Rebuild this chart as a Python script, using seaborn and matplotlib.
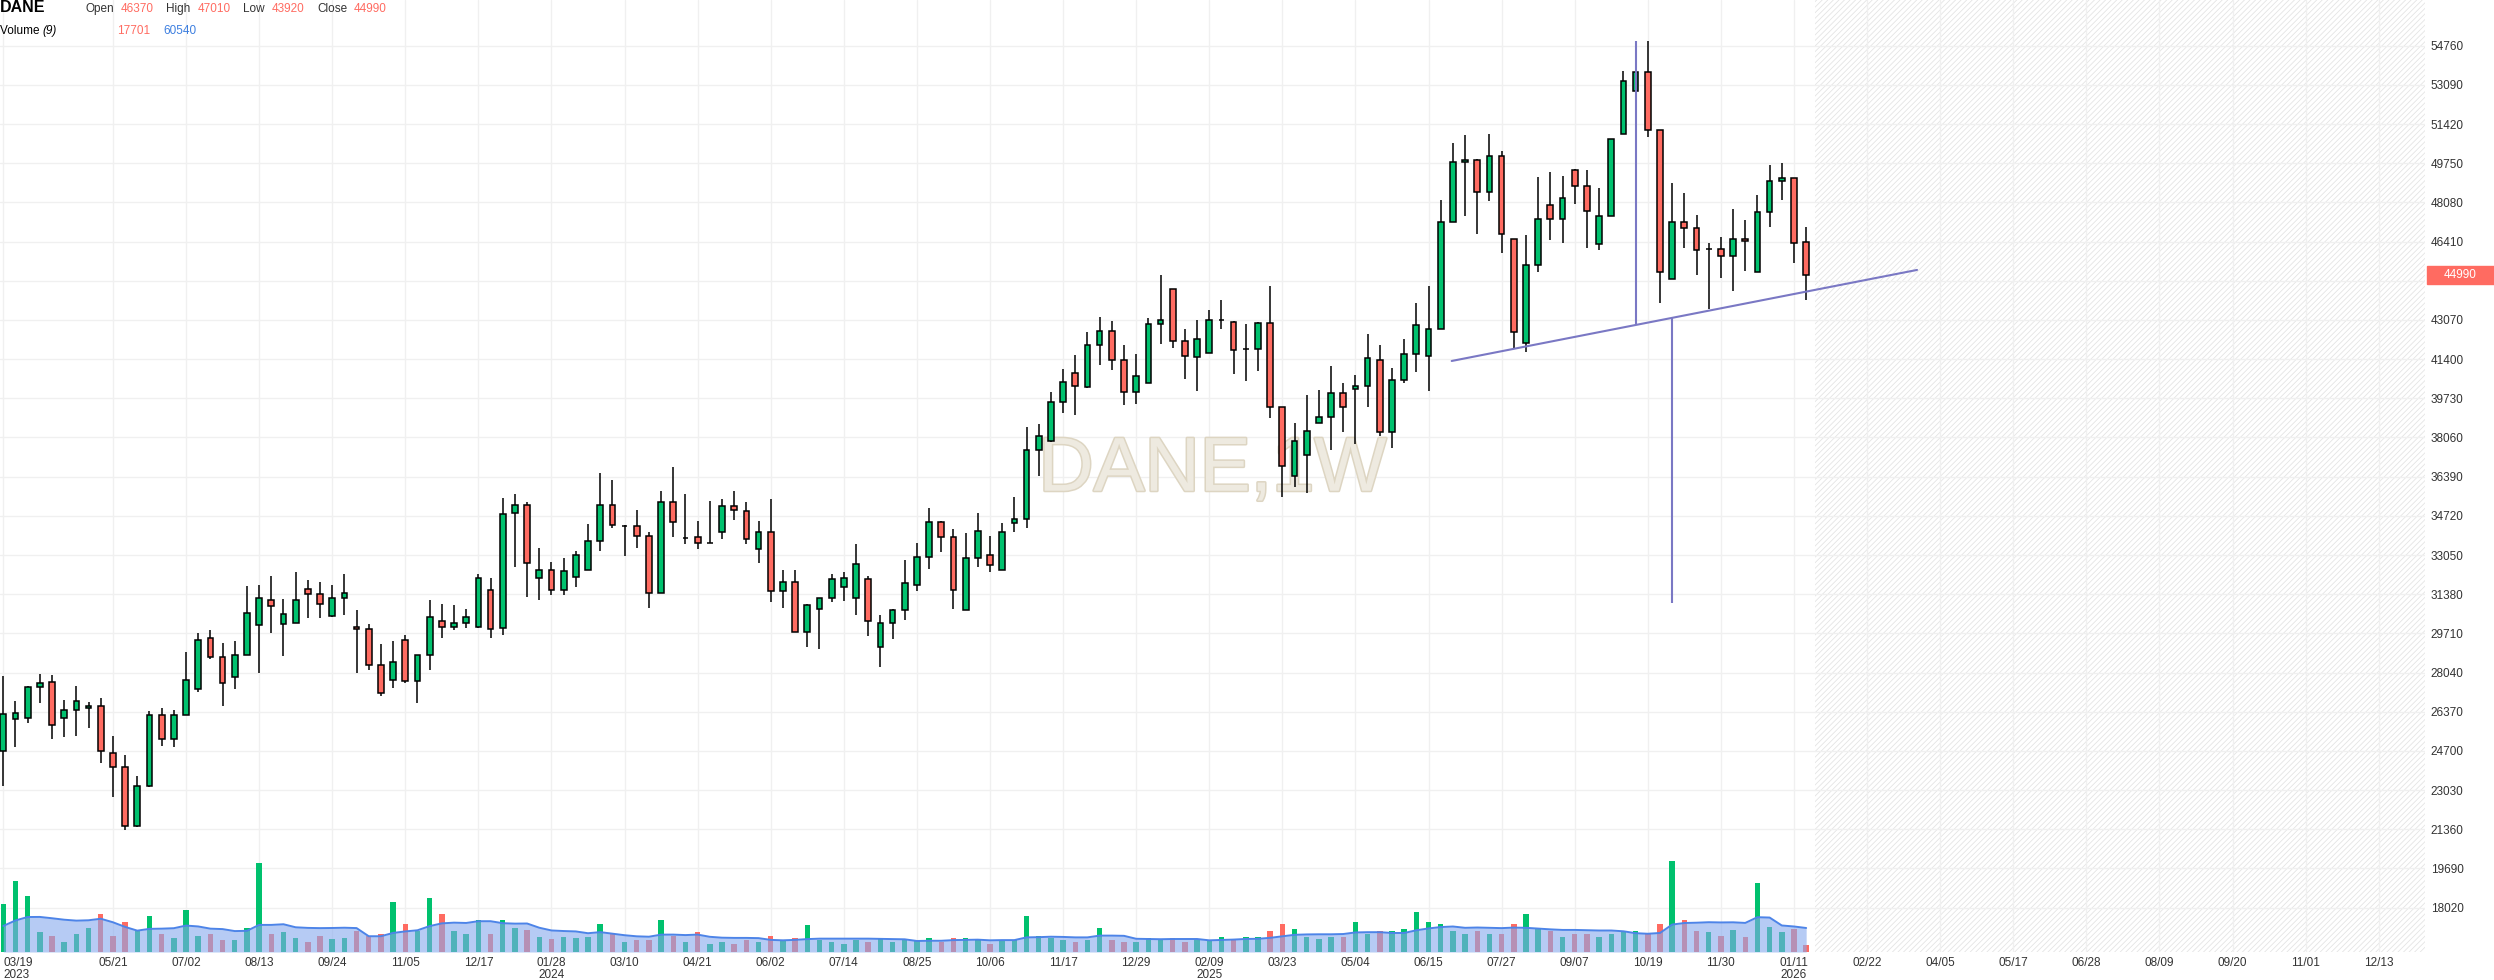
import matplotlib
matplotlib.use('Agg')
import matplotlib.pyplot as plt
import matplotlib.patheffects as pe
from matplotlib.patches import Rectangle
import numpy as np
import pandas as pd
import seaborn as sns

# weekly candles, first bar = week of 2023-03-19
START = '2023-03-19'

OPENS = [24690, 26050, 26090, 27410, 27630, 26090, 26430, 26520, 26600, 24600,
         24000, 21490, 23190, 26220, 25200, 26220, 27330, 29500, 28690, 27840,
         28780, 30060, 31120, 30100, 30140, 31590, 31370, 30470, 31200, 30000,
         29880, 28380, 27740, 29410, 27660, 28770, 30220, 30000, 30170, 30000,
         31580, 29920, 34820, 35200, 32090, 32430, 31540, 32130, 32390, 33630,
         35200, 34300, 34270, 33840, 31450, 35330, 33780, 33800, 33580, 34010,
         35160, 34910, 33290, 34050, 31500, 31880, 29750, 30770, 31200, 31670,
         31200, 32010, 29150, 30170, 30690, 31790, 32950, 34440, 33800, 30690,
         32910, 33040, 32400, 34400, 34570, 37510, 37900, 39560, 40800, 40200,
         41990, 42590, 41350, 39990, 40370, 42890, 44380, 42160, 41480, 41650,
         43080, 42970, 41810, 41820, 42930, 39350, 36410, 37300, 38660, 38920,
         39940, 40110, 40240, 41350, 38280, 40500, 41610, 41520, 42670, 47230,
         49790, 49880, 48510, 50050, 46510, 42100, 45420, 47980, 47390, 49470,
         48790, 46320, 47510, 51010, 52840, 53650, 51180, 44830, 47260, 47000,
         46090, 46110, 45810, 46530, 45130, 47680, 49010, 49130, 46370]

HIGHS = [27900, 26820, 27450, 27980, 27930, 26860, 27460, 26770, 26950, 25330,
         24520, 23620, 26390, 26520, 26430, 28910, 29720, 29840, 29290, 29370,
         31720, 31760, 32150, 31170, 32320, 31980, 31920, 31790, 32260, 30690,
         30130, 29240, 29380, 29620, 28770, 31150, 30980, 30940, 30770, 32220,
         32050, 35500, 35670, 35290, 33330, 32770, 32940, 33240, 34390, 36530,
         36230, 34320, 34950, 34010, 35760, 36780, 35670, 34520, 35370, 35420,
         35760, 35290, 34480, 35420, 32390, 32430, 30980, 31200, 32220, 32310,
         33540, 32160, 30510, 30770, 32820, 33580, 35040, 34490, 34150, 33980,
         34830, 33850, 34400, 35510, 38490, 38620, 39990, 40970, 41560, 42540,
         43180, 43010, 41990, 41610, 43140, 44970, 44380, 42670, 43060, 43480,
         43910, 43010, 42890, 42970, 44510, 39350, 38660, 39860, 40070, 41090,
         40370, 40710, 42460, 41990, 41010, 42250, 43780, 44510, 48170, 50600,
         50940, 49930, 50980, 50260, 46510, 46700, 49180, 49390, 49220, 49520,
         49470, 48710, 50800, 53690, 53800, 54970, 51180, 48920, 48490, 47560,
         46360, 46620, 47810, 47340, 48410, 49690, 49770, 49130, 47010]

LOWS = [23220, 24880, 25910, 26730, 25200, 25310, 25350, 25690, 24200, 22720,
        21320, 21450, 23150, 24930, 24880, 26220, 27200, 28610, 26600, 27330,
        28780, 28010, 29720, 28740, 30140, 30360, 30370, 30390, 30510, 28000,
        28170, 27020, 27400, 27600, 26760, 28170, 29530, 29860, 29920, 29920,
        29530, 29620, 32560, 31280, 31150, 31330, 31330, 31670, 32390, 33200,
        34220, 32990, 33370, 30800, 31450, 33800, 33500, 33290, 33580, 33750,
        34560, 33500, 32690, 31030, 30810, 29750, 29140, 29050, 31030, 31070,
        30510, 29580, 28260, 29450, 30260, 31500, 32440, 33170, 30740, 30690,
        32550, 32310, 32400, 34020, 34190, 36410, 37850, 39090, 39010, 40160,
        41140, 40920, 39430, 39470, 40370, 42030, 41860, 40540, 40030, 41650,
        42670, 40750, 40460, 40880, 38880, 35540, 35960, 35710, 38660, 37510,
        38280, 37770, 39350, 38110, 37600, 40370, 40840, 40030, 42670, 47230,
        47490, 46720, 48130, 45910, 41860, 41700, 45130, 46490, 46360, 48020,
        46150, 46060, 47510, 51010, 52030, 50880, 43800, 44830, 46150, 45000,
        43550, 44870, 44320, 45170, 45130, 47040, 48200, 45510, 43920]

CLOSES = [26260, 26310, 27410, 27580, 25790, 26430, 26820, 26600, 24690, 24000,
          21490, 23190, 26220, 25200, 26220, 27710, 29420, 28690, 27580, 28780,
          30570, 31210, 30870, 30530, 31120, 31380, 30980, 31200, 31450, 29880,
          28380, 27190, 28510, 27660, 28770, 30390, 30000, 30170, 30390, 32090,
          29880, 34780, 35200, 32690, 32430, 31540, 32350, 33030, 33630, 35200,
          34310, 34300, 33840, 31450, 35330, 34440, 33780, 33580, 33580, 35160,
          34950, 33750, 34050, 31500, 31880, 29750, 30900, 31200, 32010, 32090,
          32650, 30220, 30170, 30690, 31840, 32950, 34440, 33800, 31550, 32910,
          34060, 32610, 34020, 34570, 37510, 38110, 39560, 40410, 40240, 41990,
          42590, 41350, 39990, 40670, 42890, 43060, 42160, 41520, 42250, 43060,
          43080, 41780, 41810, 42930, 39350, 36830, 37900, 38320, 38920, 39940,
          39350, 40240, 41440, 38280, 40500, 41610, 42840, 42670, 47230, 49790,
          49880, 48510, 50050, 46720, 42540, 45420, 47390, 47390, 48280, 48790,
          47730, 47510, 50800, 53270, 53650, 51180, 45130, 47260, 47000, 46060,
          46090, 45810, 46530, 46450, 47680, 49010, 49130, 46360, 44990]

# 8 weeks before the first visible bar (only feed the moving average)
PRE_VOLUMES = [55000, 62000, 48000, 70000, 58000, 66000, 52000, 60000]

VOLUMES = [120000, 180000, 140000, 50000, 40000, 25000, 45000, 60000, 95000, 40000,
           75000, 55000, 90000, 45000, 35000, 105000, 40000, 45000, 30000, 30000,
           60000, 225000, 45000, 50000, 36000, 26000, 40000, 33000, 36000, 52000,
           40000, 45000, 125000, 70000, 52000, 135000, 95000, 52000, 45000, 80000,
           45000, 80000, 60000, 55000, 39000, 33000, 39000, 36000, 39000, 70000,
           45000, 25000, 30000, 30000, 80000, 40000, 25000, 50000, 20000, 25000,
           20000, 30000, 25000, 40000, 30000, 35000, 68000, 30000, 25000, 20000,
           30000, 25000, 35000, 25000, 30000, 30000, 35000, 25000, 35000, 35000,
           30000, 20000, 30000, 30000, 92000, 40000, 35000, 30000, 25000, 30000,
           60000, 30000, 25000, 25000, 35000, 30000, 35000, 25000, 30000, 30000,
           39000, 33000, 39000, 39000, 52000, 70000, 58000, 39000, 33000, 39000,
           39000, 75000, 45000, 52000, 52000, 58000, 100000, 75000, 70000, 52000,
           45000, 52000, 45000, 45000, 70000, 95000, 58000, 52000, 39000, 45000,
           45000, 39000, 45000, 52000, 52000, 45000, 70000, 230000, 80000, 52000,
           50000, 40000, 55000, 38000, 175000, 62000, 50000, 57160, 17701]

PRICE_TICKS = [18020 + 1670 * k for k in range(23)]
DATE_TICKS = [0] + list(range(9, 196, 6))
YEAR_TICKS = {0: '2023', 45: '2024', 99: '2025', 147: '2026'}

# drawings: neckline and measured-move verticals
TREND_X = [118.9, 157.1]
TREND_Y = [41320, 45200]
MOVE_X = [134.06, 137.0]
MOVE_TOP = [54960, 43160]
MOVE_BOTTOM = [42860, 31000]

UP = '#00c16e'
DOWN = '#ff6b61'
DRAW = '#7a78c4'
GRID = '#f0f0f0'
TEXT = '#333333'


def main():
    sns.set_theme(style='white')
    plt.rcParams['font.family'] = ['Liberation Sans', 'DejaVu Sans']
    plt.rcParams['hatch.linewidth'] = 0.6

    df = pd.DataFrame(dict(open=OPENS, high=HIGHS, low=LOWS, close=CLOSES, volume=VOLUMES))
    df['x'] = np.arange(len(df))
    df['up'] = df['close'] >= df['open']
    vol_all = pd.Series(PRE_VOLUMES + VOLUMES)
    df['vol_ma'] = vol_all.rolling(9).mean().iloc[len(PRE_VOLUMES):].to_numpy()
    dates = pd.date_range(START, periods=200, freq='W-SUN')
    colors = np.where(df['up'], UP, DOWN)

    fig = plt.figure(figsize=(24.94, 9.8), dpi=100)
    ax = fig.add_axes([0, 28 / 980, 2425 / 2494, 952 / 980])
    ax2 = ax.twinx()
    ax.set_xlim(-0.27, 198.8)
    ax.set_ylim(16130, 56705)

    # future area
    ax.axvspan(len(df) - 0.3, 198.8, facecolor='none', edgecolor='#e4e4e4',
               hatch='//////', lw=0, zorder=0)

    ax.text(0.5, 0.505, 'DANE,1W', transform=ax.transAxes, ha='center', va='center',
            fontsize=55, color='#eeeae0', zorder=1,
            path_effects=[pe.withStroke(linewidth=2.2, foreground='#ddd5c2')])

    # candles
    ax.vlines(df['x'], df['low'], df['high'], color='black', lw=1.1, zorder=3)
    ax.bar(df['x'], (df['close'] - df['open']).abs(),
           bottom=df[['open', 'close']].min(axis=1),
           width=0.47, color=colors, edgecolor='black', linewidth=1.1, zorder=4)

    # drawings
    ax.plot(TREND_X, TREND_Y, color=DRAW, lw=1.5, zorder=5)
    ax.vlines(MOVE_X, MOVE_BOTTOM, MOVE_TOP, color=DRAW, lw=1.5, zorder=5)

    # axes styling
    ax.yaxis.tick_right()
    ax.set_yticks(PRICE_TICKS)
    ax.set_yticklabels([str(v) for v in PRICE_TICKS])
    labels = []
    for i in DATE_TICKS:
        lab = dates[i].strftime('%m/%d')
        if i in YEAR_TICKS:
            lab += '\n' + YEAR_TICKS[i]
        labels.append(lab)
    ax.set_xticks(DATE_TICKS)
    ax.set_xticklabels(labels, linespacing=1.0)
    ax.get_xticklabels()[0].set_ha('left')
    ax.tick_params(axis='x', length=0, pad=3.5, labelsize=8.5, labelcolor=TEXT)
    ax.tick_params(axis='y', length=0, pad=4, labelsize=8.5, labelcolor=TEXT,
                   left=False, labelleft=False, right=True, labelright=True)
    ax.grid(True, color=GRID, lw=1)
    ax.set_axisbelow(True)
    for s in ax.spines.values():
        s.set_visible(False)

    # volume overlay
    ax2.bar(df['x'], df['volume'], width=0.45, color=colors, linewidth=0, zorder=1)
    ax2.fill_between(df['x'], 0, df['vol_ma'], color='#86a9ee', alpha=0.6, lw=0, zorder=2)
    sns.lineplot(x='x', y='vol_ma', data=df, ax=ax2, color='#4d84e8', lw=1.4, zorder=3)
    ax2.set_ylim(0, 952 * 2522)
    ax2.set_axis_off()

    # last price label
    last = df['close'].iloc[-1]
    y_disp = ax.transData.transform((0, last))[1]
    y_fig = fig.transFigure.inverted().transform((0, y_disp))[1]
    fig.patches.append(Rectangle((2427 / 2494, y_fig - 9 / 980), 67 / 2494, 18 / 980,
                                 transform=fig.transFigure, color=DOWN))
    fig.text(2460 / 2494, y_fig, str(last), color='white', ha='center', va='center', fontsize=8.5)

    # header
    fig.text(0.0, 1 - 8 / 980, 'DANE', fontsize=11.5, weight='bold', va='center', color='black')
    head = [('Open', 85, TEXT), (str(df['open'].iloc[-1]), 121, DOWN),
            ('High', 166, TEXT), (str(df['high'].iloc[-1]), 198, DOWN),
            ('Low', 243, TEXT), (str(df['low'].iloc[-1]), 272, DOWN),
            ('Close', 317, TEXT), (str(last), 354, DOWN)]
    for txt, px, col in head:
        fig.text(px / 2494, 1 - 9 / 980, txt, fontsize=8.5, va='center', color=col)
    fig.text(0.0, 1 - 31 / 980, 'Volume ', fontsize=8.5, va='center', color='black')
    fig.text(42 / 2494, 1 - 31 / 980, '(9)', fontsize=8.5, va='center', color='black', style='italic')
    fig.text(117 / 2494, 1 - 31 / 980, str(df['volume'].iloc[-1]), fontsize=8.5, va='center', color=DOWN)
    fig.text(163 / 2494, 1 - 31 / 980, str(int(round(df['vol_ma'].iloc[-1]))), fontsize=8.5,
             va='center', color='#3d7fe0')

    fig.savefig('out.png', dpi=100)


main()
